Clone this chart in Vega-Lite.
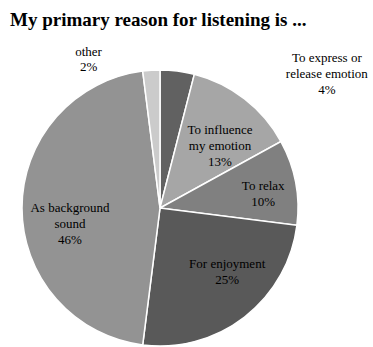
{
  "$schema": "https://vega.github.io/schema/vega-lite/v6.json",
  "autosize": {"type": "none"},
  "width": 320,
  "height": 278,
  "padding": {"left": 0, "top": 69, "right": 53, "bottom": 0},
  "background": "white",
  "title": {
    "text": "My primary reason for listening is ...",
    "anchor": "start",
    "frame": "group",
    "font": "Liberation Serif",
    "fontSize": 19,
    "fontWeight": "bold",
    "color": "#000000",
    "baseline": "alphabetic",
    "offset": 1,
    "dx": 10
  },
  "data": {
    "values": [
      {"order": 1, "reason": "To express or release emotion", "label": "To express or\nrelease emotion\n4%", "pct": 4},
      {"order": 2, "reason": "To influence my emotion", "label": "To influence\nmy emotion\n13%", "pct": 13},
      {"order": 3, "reason": "To relax", "label": "To relax\n10%", "pct": 10},
      {"order": 4, "reason": "For enjoyment", "label": "For enjoyment\n25%", "pct": 25},
      {"order": 5, "reason": "As background sound", "label": "As background\nsound\n46%", "pct": 46},
      {"order": 6, "reason": "other", "label": "other\n2%", "pct": 2}
    ]
  },
  "encoding": {
    "theta": {"field": "pct", "type": "quantitative", "stack": true},
    "order": {"field": "order", "type": "quantitative"}
  },
  "layer": [
    {
      "mark": {"type": "arc", "outerRadius": 138, "stroke": "#ffffff", "strokeWidth": 1.5},
      "encoding": {
        "color": {
          "field": "reason",
          "type": "nominal",
          "scale": {
            "domain": ["To express or release emotion", "To influence my emotion", "To relax", "For enjoyment", "As background sound", "other"],
            "range": ["#616161", "#a6a6a6", "#808080", "#595959", "#939393", "#cbcbcb"]
          },
          "legend": null
        }
      }
    },
    {
      "mark": {"type": "text", "radius": 150, "dx": 148, "dy": -1, "font": "Liberation Serif", "fontSize": 13, "lineBreak": "\n", "lineHeight": 16, "color": "#000000", "align": "center", "baseline": "middle"},
      "encoding": {"text": {"condition": {"test": "datum.order == 1", "field": "label"}, "value": ""}}
    },
    {
      "mark": {"type": "text", "radius": 93, "dx": 3, "dy": -5, "font": "Liberation Serif", "fontSize": 13, "lineBreak": "\n", "lineHeight": 16, "color": "#000000", "align": "center", "baseline": "middle"},
      "encoding": {"text": {"condition": {"test": "datum.order == 2", "field": "label"}, "value": ""}}
    },
    {
      "mark": {"type": "text", "radius": 100, "dx": 5, "dy": -3, "font": "Liberation Serif", "fontSize": 13, "lineBreak": "\n", "lineHeight": 16, "color": "#000000", "align": "center", "baseline": "middle"},
      "encoding": {"text": {"condition": {"test": "datum.order == 3", "field": "label"}, "value": ""}}
    },
    {
      "mark": {"type": "text", "radius": 90, "dx": 12, "dy": -15, "font": "Liberation Serif", "fontSize": 13, "lineBreak": "\n", "lineHeight": 16, "color": "#000000", "align": "center", "baseline": "middle"},
      "encoding": {"text": {"condition": {"test": "datum.order == 4", "field": "label"}, "value": ""}}
    },
    {
      "mark": {"type": "text", "radius": 90, "dx": 0, "dy": 0, "font": "Liberation Serif", "fontSize": 13, "lineBreak": "\n", "lineHeight": 16, "color": "#000000", "align": "center", "baseline": "middle"},
      "encoding": {"text": {"condition": {"test": "datum.order == 5", "field": "label"}, "value": ""}}
    },
    {
      "mark": {"type": "text", "radius": 150, "dx": -62, "dy": -6, "font": "Liberation Serif", "fontSize": 13, "lineBreak": "\n", "lineHeight": 15, "color": "#000000", "align": "center", "baseline": "middle"},
      "encoding": {"text": {"condition": {"test": "datum.order == 6", "field": "label"}, "value": ""}}
    }
  ],
  "config": {"view": {"stroke": null}}
}
